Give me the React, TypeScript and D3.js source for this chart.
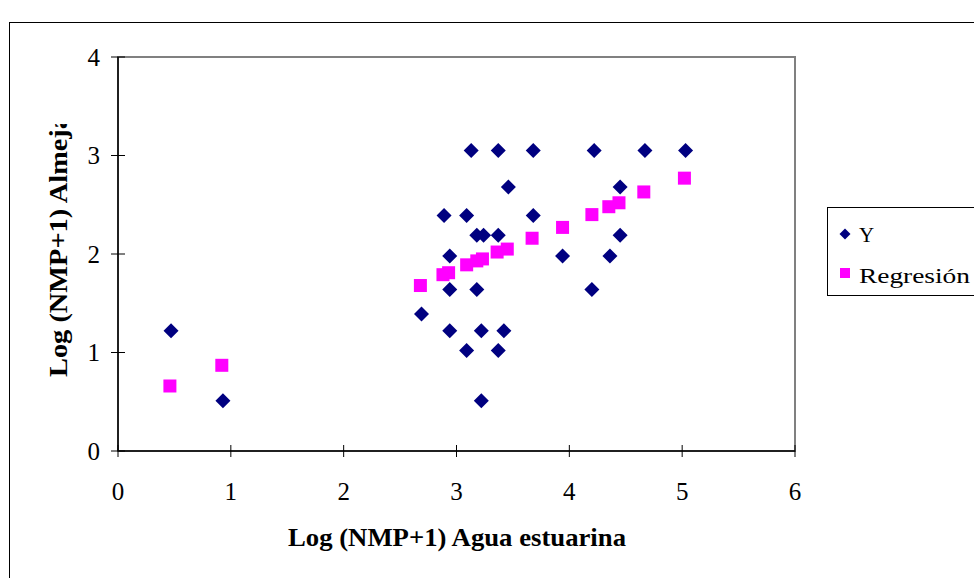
import React from "react";
import * as d3 from "d3";

const obsX = [0.47, 0.93, 2.69, 2.89, 2.94, 2.94, 2.94, 3.09, 3.09, 3.13, 3.18, 3.18, 3.24, 3.22, 3.22, 3.37, 3.37, 3.37, 3.42, 3.46, 3.68, 3.68, 3.94, 4.22, 4.2, 4.36, 4.45, 4.45, 4.67, 5.03];
const obsY = [1.22, 0.51, 1.39, 2.39, 1.98, 1.64, 1.22, 2.39, 1.02, 3.05, 2.19, 1.64, 2.19, 1.22, 0.51, 3.05, 2.19, 1.02, 1.22, 2.68, 3.05, 2.39, 1.98, 3.05, 1.64, 1.98, 2.68, 2.19, 3.05, 3.05];

const regX = [0.46, 0.92, 2.68, 2.88, 2.93, 3.09, 3.18, 3.23, 3.36, 3.45, 3.67, 3.94, 4.2, 4.35, 4.44, 4.66, 5.02];
const regY = [0.66, 0.87, 1.68, 1.79, 1.81, 1.89, 1.93, 1.95, 2.02, 2.05, 2.16, 2.27, 2.4, 2.48, 2.52, 2.63, 2.77];

const xTicks = [0, 1, 2, 3, 4, 5, 6];
const yTicks = [0, 1, 2, 3, 4];
const xTitle = "Log (NMP+1) Agua estuarina";
const yTitle = "Log (NMP+1) Almeja";
const legendLabels = ["Y", "Regresión"];

const NAVY = "#000080";
const MAGENTA = "#FF00FF";
const FONT = "Liberation Serif";

export default function App() {
  const left = 118, right = 795, top = 57, bottom = 451;
  const x = d3.scaleLinear().domain([0, 6]).range([left, right]);
  const y = d3.scaleLinear().domain([0, 4]).range([bottom, top]);
  const diamondPath = (cx: number, cy: number, r: number) =>
    `M${cx},${cy - r}L${cx + r},${cy}L${cx},${cy + r}L${cx - r},${cy}Z`;
  const tStyle = { fontFamily: FONT } as React.CSSProperties;

  return (
    <svg width={974} height={578} style={{ position: "absolute", left: 0, top: 0, display: "block" }}>
      <defs>
        <clipPath id="ytclip">
          <rect x={0} y={124} width={120} height={400} />
        </clipPath>
      </defs>
      <rect x={0} y={0} width={974} height={578} fill="#fff" />
      <rect x={9.5} y={22.5} width={1000} height={600} fill="none" stroke="#000" strokeWidth={1} />
      <rect x={left} y={top} width={right - left} height={bottom - top} fill="#fff" stroke="#808080" strokeWidth={2} />
      <line x1={left} x2={left} y1={top} y2={bottom} stroke="#000" strokeWidth={1.5} />
      <line x1={left} x2={right} y1={bottom} y2={bottom} stroke="#000" strokeWidth={1.5} />
      {yTicks.map((t) => (
        <g key={"yt" + t}>
          <line x1={left - 7} x2={left + 7} y1={y(t)} y2={y(t)} stroke="#000" strokeWidth={1} />
          <text x={left - 18} y={y(t)} dy="0.35em" textAnchor="end" style={tStyle} fontSize={25} fill="#000">
            {t}
          </text>
        </g>
      ))}
      {xTicks.map((t) => (
        <g key={"xt" + t}>
          <line x1={x(t)} x2={x(t)} y1={bottom - 6} y2={bottom + 6} stroke="#000" strokeWidth={1} />
          <text x={x(t)} y={500} textAnchor="middle" style={tStyle} fontSize={25} fill="#000">
            {t}
          </text>
        </g>
      ))}
      <text x={288} y={546} style={tStyle} fontSize={25} fontWeight="bold" textLength={338} lengthAdjust="spacingAndGlyphs" fill="#000">
        {xTitle}
      </text>
      <g clipPath="url(#ytclip)">
        <text
          transform="translate(67,377) rotate(-90)"
          x={0}
          y={0}
          style={tStyle}
          fontSize={25}
          fontWeight="bold"
          textLength={262}
          lengthAdjust="spacingAndGlyphs"
          fill="#000"
        >
          {yTitle}
        </text>
      </g>
      {obsX.map((v, i) => (
        <path key={"o" + i} d={diamondPath(x(v), y(obsY[i]), 7.5)} fill={NAVY} />
      ))}
      {regX.map((v, i) => (
        <rect key={"r" + i} x={x(v) - 6.5} y={y(regY[i]) - 6.5} width={13} height={13} fill={MAGENTA} />
      ))}
      <rect x={827.5} y={207.5} width={200} height={88} fill="#fff" stroke="#000" strokeWidth={1} />
      <path d={diamondPath(845, 234, 5.5)} fill={NAVY} />
      <text x={859} y={242} style={tStyle} fontSize={21} fill="#000">
        {legendLabels[0]}
      </text>
      <rect x={840} y={268} width={10} height={10} fill={MAGENTA} />
      <text x={859} y={283} style={tStyle} fontSize={21} textLength={111} lengthAdjust="spacingAndGlyphs" fill="#000">
        {legendLabels[1]}
      </text>
    </svg>
  );
}
